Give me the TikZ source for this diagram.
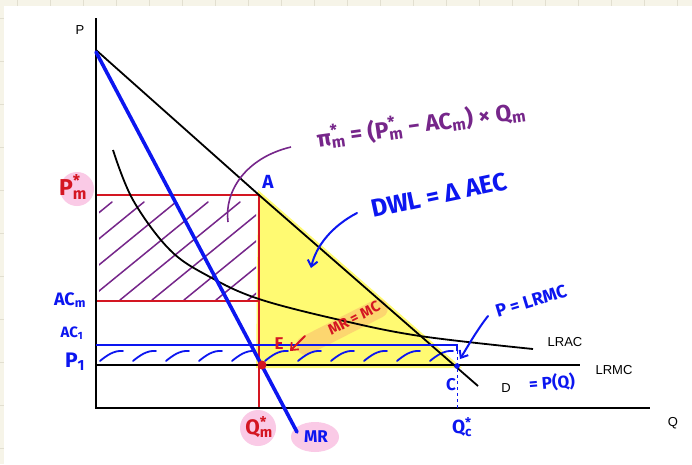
\documentclass[tikz,border=0pt]{standalone}
\usepackage{fontspec}
\setmainfont{Liberation Sans}
\newfontfamily\hand{Fira Sans}
\usetikzlibrary{arrows.meta,shapes.geometric}
\definecolor{cream}{RGB}{246,244,232}
\definecolor{gridc}{RGB}{226,223,208}
\definecolor{hblue}{RGB}{12,22,240}
\definecolor{hred}{RGB}{212,22,34}
\definecolor{hpurple}{RGB}{118,38,138}
\definecolor{hyellow}{RGB}{255,250,90}
\definecolor{hpink}{RGB}{250,202,230}
\definecolor{horange}{RGB}{250,185,110}
\newcommand{\hsbsp}[2]{\makebox[0pt][l]{\textsuperscript{#1}}\textsubscript{#2}}
\begin{document}
\begin{tikzpicture}[x=1pt,y=-1pt,
  axisline/.style={line width=2pt,black},
  curveline/.style={line width=1.8pt,black},
  mrline/.style={line width=3.6pt,hblue,line cap=round},
  redline/.style={line width=1.4pt,hred},
  bluehatch/.style={line width=1.8pt,hblue,line cap=round},
  purplehatch/.style={line width=1.5pt,hpurple,line cap=round},
  printlbl/.style={font=\fontsize{13}{15}\selectfont,inner sep=0pt},
  handblue/.style={text=hblue,font=\hand\bfseries\fontsize{17}{19}\selectfont,inner sep=0pt},
  handred/.style={text=hred,font=\hand\bfseries\fontsize{17}{19}\selectfont,inner sep=0pt},
  handpurple/.style={text=hpurple,font=\hand\bfseries\fontsize{23}{25}\selectfont,inner sep=0pt},
  pinkblob/.style={fill=hpink,draw=none},
  handarrow/.style={line width=2pt,line cap=round,-{Straight Barb[length=6pt,width=10pt]}}
]
\useasboundingbox (0,0) rectangle (692,464);
% background paper
\fill[cream] (0,0) rectangle (692,464);
\foreach \gx in {17,50,...,692} \draw[gridc,line width=0.8pt] (\gx,0) -- (\gx,6);
\foreach \gy in {18,61,...,464} \draw[gridc,line width=0.8pt] (0,\gy) -- (4,\gy);
\fill[white] (4,6) rectangle (692,464);

% key coordinates
\coordinate (O) at (96,408);
\coordinate (Ytop) at (96,18);
\coordinate (Xend) at (650,408);
\coordinate (D0) at (96,50);
\coordinate (A) at (259,195);
\coordinate (D1) at (478,386);
\coordinate (M0) at (96,52);
\coordinate (M1) at (297,432);
\coordinate (E) at (259,365);
\coordinate (C) at (456,365);
\coordinate (Pm) at (96,195);
\coordinate (ACm) at (96,301);
\coordinate (ACmQ) at (259,301);
\coordinate (Qm) at (259,408);
\coordinate (AC1) at (96,345);
\coordinate (AC1e) at (457,345);
\coordinate (AC1t) at (457,351);
\coordinate (Qc) at (457,408);
\coordinate (L0) at (96,365);
\coordinate (L1) at (580,365);

% highlights
\fill[hyellow,opacity=0.85] (258,190) -- (256,368) -- (462,368) -- cycle;
\node[fill=horange,opacity=0.55,rounded corners=9pt,minimum width=100pt,minimum height=19pt,rotate=27,draw=none] (orbg) at (342,327) {};
\node[pinkblob,circle,minimum size=34pt] (pmbg) at (77,189) {};
\node[pinkblob,circle,minimum size=36pt] (qmbg) at (258,428) {};
\node[pinkblob,ellipse,minimum width=48pt,minimum height=30pt] (mrbg) at (315,437) {};

% purple hatching (profit)
\begin{scope}
\clip (99,200) rectangle (256,299);
\foreach \hx in {-40,-8,...,260} \draw[purplehatch] (\hx,300) -- (\hx+120,202);
\end{scope}

% blue hatching strip
\foreach \bx in {100,133,...,430}
  \draw[bluehatch] (\bx,361) .. controls (\bx+6,356) and (\bx+14,350) .. (\bx+23,351);

% red rectangle lines
\draw[redline] (Pm) -- (A) -- (Qm);
\draw[redline] (ACm) -- (ACmQ);

% axes
\draw[axisline] (Ytop) -- (O) -- (Xend);

% demand, LRMC, LRAC
\draw[curveline] (D0) -- (A) -- (D1);
\draw[curveline] (L0) -- (L1);
\draw[curveline] plot[smooth,tension=0.6] coordinates {(113,150) (133,200) (170,250) (210,277) (259,299) (340,320) (420,336) (533,349)};

% AC1 line and Qc dashed
\draw[line width=2.4pt,hblue] (AC1) -- (AC1e) -- (AC1t);
\draw[hblue,line width=1pt,dashed] (AC1e) -- (Qc);

% MR line
\draw[mrline] (M0) -- (M1);

% dots
\fill[hred] (E) ++(3,0) circle (4.5);
\fill[hblue] (C) ++(1,1) circle (2.8);

% printed labels
\node[printlbl] (Plbl) at (80,30) {P};
\node[printlbl] (Qlbl) at (673,423) {Q};
\node[printlbl] (lraclbl) at (565,342) {LRAC};
\node[printlbl] (lrmclbl) at (614,370) {LRMC};
\node[printlbl] (Dlbl) at (506,388) {D};

% hand labels
\node[handblue,rotate=5] (pqlbl) at (552,383) {= P(Q)};
\node[handblue] (Clbl) at (451,385) {C};
\node[handblue,font=\hand\bfseries\fontsize{19}{21}\selectfont] (qclbl) at (462,427) {Q\hsbsp{*}{c}};
\node[handblue,font=\hand\bfseries\fontsize{19}{21}\selectfont] (Albl) at (268,182) {A};
\node[handred] (Elbl) at (279,344) {E};
\node[handred,rotate=27,font=\hand\bfseries\fontsize{15}{17}\selectfont] (mrmclbl) at (354,318) {MR = MC};
\node[handblue,rotate=17,font=\hand\bfseries\fontsize{18}{20}\selectfont] (plrmclbl) at (531,301) {P = LRMC};
\node[handblue,rotate=12,font=\hand\bfseries\fontsize{25}{27}\selectfont] (dwllbl) at (439,195) {DWL = Δ AEC};
\node[handpurple,rotate=8] (pilbl) at (421,124) {π\hsbsp{*}{m} = (P\hsbsp{*}{m} − AC\textsubscript{m}) × Q\textsubscript{m}};
\node[handblue] (mrlbl) at (316,437) {MR};
\node[handred,font=\hand\bfseries\fontsize{21}{23}\selectfont] (qmlbl) at (259,427) {Q\hsbsp{*}{m}};
\node[handred,font=\hand\bfseries\fontsize{23}{25}\selectfont] (pmlbl) at (73,187) {P\hsbsp{*}{m}};
\node[handblue,font=\hand\bfseries\fontsize{18}{20}\selectfont] (acmlbl) at (70,300) {AC\textsubscript{m}};
\node[handblue,font=\hand\bfseries\fontsize{15}{17}\selectfont] (ac1lbl) at (72,333) {AC\textsubscript{1}};
\node[handblue,font=\hand\bfseries\fontsize{21}{23}\selectfont] (p1lbl) at (75,362) {P\textsubscript{1}};

% hand arrows and arc
\coordinate (dwlstart) at (357,213);
\coordinate (dwlend) at (311,268);
\draw[handarrow,hblue] (dwlstart) .. controls (332,226) and (316,246) .. (dwlend);
\coordinate (pstart) at (488,316);
\coordinate (pend) at (460,359);
\draw[handarrow,hblue] (pstart) .. controls (477,330) and (468,346) .. (pend);
\coordinate (earrowstart) at (305,336);
\coordinate (earrowend) at (290,351);
\draw[handarrow,hred,line width=1.8pt] (earrowstart) -- (earrowend);
\coordinate (arcstart) at (291,147);
\coordinate (arcend) at (228,222);
\draw[hpurple,line width=1.6pt] (arcstart) .. controls (245,158) and (224,192) .. (arcend);
\end{tikzpicture}
\end{document}
